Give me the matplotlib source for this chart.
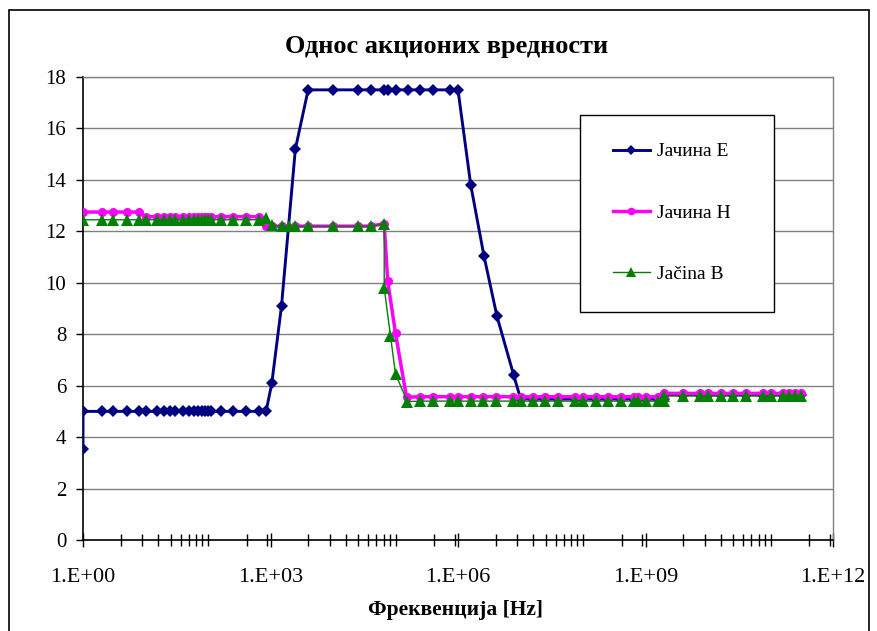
import matplotlib
matplotlib.use("Agg")
import matplotlib.pyplot as plt
from matplotlib.patches import Rectangle
from matplotlib.ticker import FixedLocator, FixedFormatter, NullFormatter

""" ---------- data read off the chart ---------- """

# Јачина Е (navy diamonds)
e_freq = [1, 1, 2, 3, 5, 8, 10, 15, 20, 25, 30, 40, 50, 60, 70, 80, 90, 100, 110, 160, 250, 400, 650, 850,
          1050, 1500, 2500, 4000, 1e4, 2.5e4, 4e4, 6.6e4, 7.5e4, 1e5, 1.6e5, 2.5e5, 4e5, 7.5e5, 1e6,
          1.6e6, 2.6e6, 4.2e6, 7.8e6, 1e7,
          1.6e7, 2.5e7, 4e7, 7.5e7, 1e8, 1.6e8, 2.5e8, 4e8, 6.6e8, 7.5e8, 1e9, 1.6e9, 2e9,
          2e9, 4e9, 7.5e9, 1e10, 1.6e10, 2.5e10, 4e10, 7.5e10, 1e11, 1.6e11, 2e11, 2.5e11, 3.1e11]
e_val = [3.55, 5.0, 5.0, 5.0, 5.0, 5.0, 5.0, 5.0, 5.0, 5.0, 5.0, 5.0, 5.0, 5.0, 5.0, 5.0, 5.0, 5.0, 5.0, 5.0,
         5.0, 5.0, 5.0, 5.0,
         6.1, 9.1, 15.2, 17.5, 17.5, 17.5, 17.5, 17.5, 17.5, 17.5, 17.5, 17.5, 17.5, 17.5, 17.5,
         13.8, 11.05, 8.7, 6.4, 5.5,
         5.48, 5.48, 5.48, 5.48, 5.48, 5.48, 5.48, 5.48, 5.48, 5.48, 5.48, 5.48, 5.48,
         5.65, 5.65, 5.65, 5.65, 5.65, 5.65, 5.65, 5.65, 5.65, 5.65, 5.65, 5.65, 5.65]

# Јачина Н (magenta circles)
h_freq = [1, 2, 3, 5, 8, 10, 15, 20, 25, 30, 40, 50, 60, 70, 80, 90, 100, 110, 160, 250, 400, 650, 850,
          1050, 1500, 2500, 4000, 1e4, 2.5e4, 4e4, 6.6e4, 7.5e4, 1e5, 1.5e5,
          2.5e5, 4e5, 7.5e5, 1e6, 1.6e6, 2.5e6, 4e6, 7.5e6, 1e7, 1.6e7, 2.5e7, 4e7, 7.5e7,
          1e8, 1.6e8, 2.5e8, 4e8, 6.6e8, 7.5e8, 1e9, 1.6e9, 2e9,
          2e9, 4e9, 7.5e9, 1e10, 1.6e10, 2.5e10, 4e10, 7.5e10, 1e11, 1.6e11, 2e11, 2.5e11, 3.1e11]
h_val = [12.75, 12.75, 12.75, 12.75, 12.75,
         12.57, 12.57, 12.57, 12.57, 12.57, 12.57, 12.57, 12.57, 12.57, 12.57, 12.57, 12.57, 12.57,
         12.57, 12.57, 12.57, 12.57,
         12.2, 12.2, 12.2, 12.2, 12.2, 12.2, 12.2, 12.2, 12.3, 10.07, 8.04, 5.55,
         5.57, 5.57, 5.57, 5.57, 5.57, 5.57, 5.57, 5.57, 5.57, 5.57, 5.57, 5.57, 5.57,
         5.57, 5.57, 5.57, 5.57, 5.57, 5.57, 5.57, 5.57, 5.57,
         5.7, 5.7, 5.7, 5.7, 5.7, 5.7, 5.7, 5.7, 5.7, 5.7, 5.7, 5.7, 5.7]

# Jačina B (green triangles)
b_freq = [1, 2, 3, 5, 8, 10, 15, 20, 25, 30, 40, 50, 60, 70, 80, 90, 100, 110, 160, 250, 400, 650, 850,
          1050, 1500, 2000, 2500, 4000, 1e4, 2.5e4, 4e4, 6.6e4, 6.6e4, 8.3e4, 1e5, 1.55e5,
          2.5e5, 4e5, 7.5e5, 1e6, 1.6e6, 2.5e6, 4e6, 7.5e6, 1e7, 1.6e7, 2.5e7, 4e7, 7.5e7,
          1e8, 1.6e8, 2.5e8, 4e8, 6.6e8, 7.5e8, 1e9, 1.6e9, 2e9,
          2e9, 4e9, 7.5e9, 1e10, 1.6e10, 2.5e10, 4e10, 7.5e10, 1e11, 1.6e11, 2e11, 2.5e11, 3.1e11]
b_val = [12.45, 12.45, 12.45, 12.45, 12.45, 12.45, 12.45, 12.45, 12.45, 12.45, 12.45, 12.45, 12.45,
         12.45, 12.45, 12.45, 12.45, 12.45, 12.45, 12.45, 12.45, 12.45, 12.5,
         12.25, 12.2, 12.2, 12.2, 12.2, 12.2, 12.2, 12.2, 12.3, 9.8, 7.95, 6.45, 5.38,
         5.4, 5.4, 5.4, 5.4, 5.4, 5.4, 5.4, 5.4, 5.4, 5.4, 5.4, 5.4, 5.4,
         5.4, 5.4, 5.4, 5.4, 5.4, 5.4, 5.4, 5.4, 5.4,
         5.6, 5.6, 5.6, 5.6, 5.6, 5.6, 5.6, 5.6, 5.6, 5.6, 5.6, 5.6, 5.6]

series_labels = ["Јачина Е", "Јачина Н", "Jačina B"]
x_tick_values = [1, 1e3, 1e6, 1e9, 1e12]
x_tick_labels = ["1.E+00", "1.E+03", "1.E+06", "1.E+09", "1.E+12"]
y_ticks = [0, 2, 4, 6, 8, 10, 12, 14, 16, 18]

title = "Однос акционих вредности"
x_label = "Фреквенција [Hz]"


def main() -> None:
    plt.rcParams["font.family"] = ["Liberation Serif", "DejaVu Serif"]

    W, H = 877, 631
    fig = plt.figure(figsize=(W / 100, H / 100), dpi=100)
    fig.patch.set_facecolor("white")

    # plot area in pixel coords: x 83..833, y 77..540
    ax = fig.add_axes([83 / W, 1 - 540 / H, (833 - 83) / W, (540 - 77) / H])
    ax.set_xscale("log")

    ax.plot(e_freq, e_val, color="#000080", lw=2.1, marker="D", ms=6.5,
            markeredgewidth=0, label=series_labels[0], zorder=3)
    ax.plot(h_freq, h_val, color="#FF00FF", lw=2.5, marker="o", ms=6.5,
            markeredgewidth=0, label=series_labels[1], zorder=4)
    ax.plot(b_freq, b_val, color="#008000", lw=1.0, marker="^", ms=8,
            markeredgewidth=0, label=series_labels[2], zorder=5)

    ax.set_xlim(1, 1e12)
    ax.set_ylim(0, 18)

    # grid
    ax.set_yticks(y_ticks)
    ax.yaxis.grid(True, color="#808080", lw=1.0)
    ax.set_axisbelow(True)

    # x ticks: labelled every 3 decades, excel style minor ticks in between
    minor_offsets = [0.60, 0.95, 1.20, 1.40, 1.56, 1.69, 1.81, 1.91, 2.0, 2.62, 2.95]
    minor = []
    for k in range(4):
        for off in minor_offsets:
            minor.append(10 ** (3 * k + off))
    ax.xaxis.set_major_locator(FixedLocator(x_tick_values))
    ax.xaxis.set_major_formatter(FixedFormatter(x_tick_labels))
    ax.xaxis.set_minor_locator(FixedLocator(minor))
    ax.xaxis.set_minor_formatter(NullFormatter())
    ax.tick_params(axis="x", which="major", direction="inout", length=10, width=1, pad=15,
                   labelsize=16)
    ax.tick_params(axis="x", which="minor", direction="inout", length=9, width=1)
    ax.tick_params(axis="y", which="major", direction="out", length=5, width=1, pad=7,
                   labelsize=15)

    for side in ["left", "bottom"]:
        ax.spines[side].set_color("black")
        ax.spines[side].set_linewidth(1.2)
    for side in ["right", "top"]:
        ax.spines[side].set_color("#808080")
        ax.spines[side].set_linewidth(1.0)

    fig.text(447 / W, 1 - 46 / H, title, ha="center", va="center",
             fontsize=19, fontweight="bold")
    fig.text(455 / W, 1 - 610 / H, x_label, ha="center", va="center",
             fontsize=15.5, fontweight="bold")

    # legend box drawn separately so the padding matches
    fig.add_artist(Rectangle((580 / W, 1 - 312 / H), 194 / W, 197 / H,
                             transform=fig.transFigure, facecolor="white",
                             edgecolor="black", lw=1.0, zorder=5))
    handles, labels = ax.get_legend_handles_labels()
    leg = fig.legend(handles, labels, loc="center left", bbox_to_anchor=(613 / W, 1 - 213 / H),
                     frameon=False, fontsize=14, labelspacing=2.25, handlelength=1.9,
                     handletextpad=0.35, borderpad=0, borderaxespad=0, markerscale=0.85)
    leg.set_zorder(6)

    # outer chart frame
    fig.add_artist(Rectangle((9 / W, -0.05), 860 / W, 1 - 10 / H + 0.05,
                             transform=fig.transFigure, fill=False,
                             edgecolor="black", lw=1.2, zorder=10))

    fig.savefig("out.png", dpi=100)


if __name__ == "__main__":
    main()
